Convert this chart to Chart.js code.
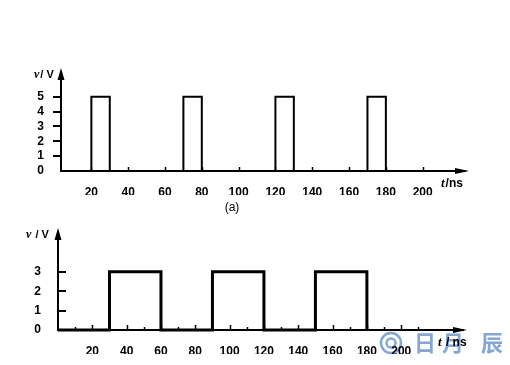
<!DOCTYPE html>
<html>
<head>
<meta charset="utf-8">
<script src="https://cdn.jsdelivr.net/npm/chart.js@4.4.1/dist/chart.umd.min.js"></script>
<style>
  body { margin: 0; background: #fff; }
  .wrap { position: relative; width: 510px; height: 365px; }
  canvas { position: absolute; left: 0; top: 0; }
</style>
</head>
<body>
<div class="wrap">
  <canvas id="topChart" width="510" height="365"></canvas>
  <canvas id="bottomChart" width="510" height="365"></canvas>
</div>
<script>
// Top waveform (a): narrow 5 V pulses
const topEdges = [3, 20, 30, 70, 80, 120, 130, 170, 180];
const topLevels = [0, 5, 0, 5, 0, 5, 0, 5, 0];
const topXTicks = [20, 40, 60, 80, 100, 120, 140, 160, 180, 200];
const topMinorTicks = [];
const topYTicks = [0, 1, 2, 3, 4, 5];

// Bottom waveform: wide 3 V pulses
const bottomEdges = [0, 30, 60, 90, 120, 150, 180];
const bottomLevels = [0, 3, 0, 3, 0, 3, 0];
const bottomXTicks = [20, 40, 60, 80, 100, 120, 140, 160, 180, 200];
const bottomMinorTicks = [10, 30, 50, 70, 90, 110, 130, 150, 170, 190, 210];
const bottomYTicks = [0, 1, 2, 3];

const tickFont = { family: "'Liberation Sans', Arial, sans-serif", size: 12, weight: 'bold' };

// draws arrows, small tick marks and axis titles
const axisDecor = {
    id: 'axisDecor',
    beforeDraw(chart, args, opts) {
        if (!opts.watermark) return;
        const ctx = chart.ctx;
        ctx.save();
        ctx.strokeStyle = '#86a6d6';
        ctx.fillStyle = '#86a6d6';
        ctx.lineWidth = 2.5;
        ctx.beginPath();
        ctx.arc(391, 343, 10, 0, Math.PI * 2);
        ctx.stroke();
        ctx.beginPath();
        ctx.arc(391, 343, 4.5, 0, Math.PI * 2);
        ctx.stroke();
        ctx.font = "bold 22px 'Noto Sans CJK SC', sans-serif";
        ctx.textAlign = 'center';
        ctx.textBaseline = 'middle';
        ctx.fillText('日', 425, 343);
        ctx.fillText('月', 453, 343);
        ctx.fillText('辰', 492, 343);
        ctx.restore();
    },
    afterDraw(chart, args, opts) {
        const ctx = chart.ctx;
        const area = chart.chartArea;
        const xs = chart.scales.x, ys = chart.scales.y;
        ctx.save();
        ctx.fillStyle = '#000';
        ctx.strokeStyle = '#000';

        // y arrow
        ctx.beginPath();
        ctx.moveTo(area.left, area.top - 5);
        ctx.lineTo(area.left - 3.5, area.top + 7);
        ctx.lineTo(area.left + 3.5, area.top + 7);
        ctx.closePath();
        ctx.fill();

        // x arrow
        ctx.beginPath();
        ctx.moveTo(area.right + 4, area.bottom);
        ctx.lineTo(area.right - 10, area.bottom - 3);
        ctx.lineTo(area.right - 10, area.bottom + 3);
        ctx.closePath();
        ctx.fill();

        // x tick marks pointing up
        ctx.lineWidth = 1.5;
        opts.major.forEach(v => {
            const px = Math.round(xs.getPixelForValue(v)) + 0.5;
            ctx.beginPath();
            ctx.moveTo(px, area.bottom);
            ctx.lineTo(px, area.bottom - opts.majorLen);
            ctx.stroke();
        });
        opts.minor.forEach(v => {
            const px = Math.round(xs.getPixelForValue(v)) + 0.5;
            ctx.beginPath();
            ctx.moveTo(px, area.bottom);
            ctx.lineTo(px, area.bottom - 3);
            ctx.stroke();
        });

        // y tick marks
        ctx.lineWidth = 2;
        opts.yTicks.forEach(v => {
            if (v === 0) return;
            const py = Math.round(ys.getPixelForValue(v));
            ctx.beginPath();
            ctx.moveTo(area.left, py);
            ctx.lineTo(area.left + opts.yTickDir * 8, py);
            ctx.stroke();
        });

        // axis titles
        ctx.textBaseline = 'middle';
        ctx.textAlign = 'left';
        let x = opts.yTitleX;
        ctx.font = "bold italic 12px 'Liberation Serif', serif";
        ctx.fillText('v', x, area.top + 2);
        x += ctx.measureText('v').width + 1;
        ctx.font = "bold 11px 'Liberation Sans', Arial, sans-serif";
        ctx.fillText(opts.ySep + 'V', x, area.top + 2);

        x = opts.xTitleX;
        ctx.font = "bold italic 13px 'Liberation Serif', serif";
        ctx.fillText('t', x, area.bottom + 13);
        x += ctx.measureText('t').width + 1;
        ctx.font = "bold 12px 'Liberation Sans', Arial, sans-serif";
        ctx.fillText(opts.xSep + 'ns', x, area.bottom + 13);

        if (opts.caption) {
            ctx.font = "12px 'Liberation Sans', Arial, sans-serif";
            ctx.textAlign = 'center';
            ctx.fillText(opts.caption, 232, 208);
        }
        ctx.restore();
    }
};

function makeChart(id, edges, levels, cfg) {
    return new Chart(document.getElementById(id).getContext('2d'), {
        type: 'line',
        data: {
            datasets: [{
                data: edges.map((t, i) => ({ x: t, y: levels[i] })),
                stepped: 'before',
                borderColor: '#000',
                borderWidth: cfg.lineWidth,
                pointRadius: 0,
                fill: false,
                clip: false
            }]
        },
        options: {
            responsive: false,
            animation: false,
            events: [],
            layout: { padding: cfg.padding },
            plugins: {
                legend: { display: false },
                tooltip: { enabled: false },
                axisDecor: cfg.decor
            },
            scales: {
                x: {
                    type: 'linear',
                    min: cfg.xMin,
                    max: cfg.xMax,
                    afterBuildTicks: s => { s.ticks = cfg.xTicks.map(v => ({ value: v })); },
                    afterFit: s => { s.height = 24; },
                    grid: { display: false },
                    border: { display: true, color: '#000', width: 2 },
                    ticks: { color: '#000', font: tickFont, padding: 6, maxRotation: 0, autoSkip: false }
                },
                y: {
                    min: 0,
                    max: cfg.yMax,
                    afterBuildTicks: s => { s.ticks = cfg.yTicks.map(v => ({ value: v })); },
                    afterFit: s => { s.width = cfg.yWidth; },
                    grid: { display: false },
                    border: { display: true, color: '#000', width: 2 },
                    ticks: { color: '#000', font: tickFont, padding: 9, autoSkip: false }
                }
            }
        },
        plugins: [axisDecor]
    });
}

const topChart = makeChart('topChart', topEdges, topLevels, {
    lineWidth: 2,
    xMin: 3.5, xMax: 223, yMax: 6.6,
    xTicks: topXTicks, yTicks: topYTicks,
    yWidth: 61,
    padding: { left: 0, right: 45, top: 73, bottom: 170 },
    decor: { major: topXTicks, minor: topMinorTicks, majorLen: 4, yTicks: topYTicks, yTickDir: -1,
             yTitleX: 34, ySep: '/ ', xTitleX: 441, xSep: '/', caption: '(a)' }
});

const bottomChart = makeChart('bottomChart', bottomEdges, bottomLevels, {
    lineWidth: 3,
    xMin: 0, xMax: 236, yMax: 5,
    xTicks: bottomXTicks, yTicks: bottomYTicks,
    yWidth: 58,
    padding: { left: 0, right: 47, top: 233, bottom: 11 },
    decor: { major: bottomXTicks, minor: bottomMinorTicks, majorLen: 5, yTicks: bottomYTicks, yTickDir: 1,
             yTitleX: 26, ySep: ' / ', xTitleX: 438, xSep: ' / ', watermark: true }
});
</script>
</body>
</html>
